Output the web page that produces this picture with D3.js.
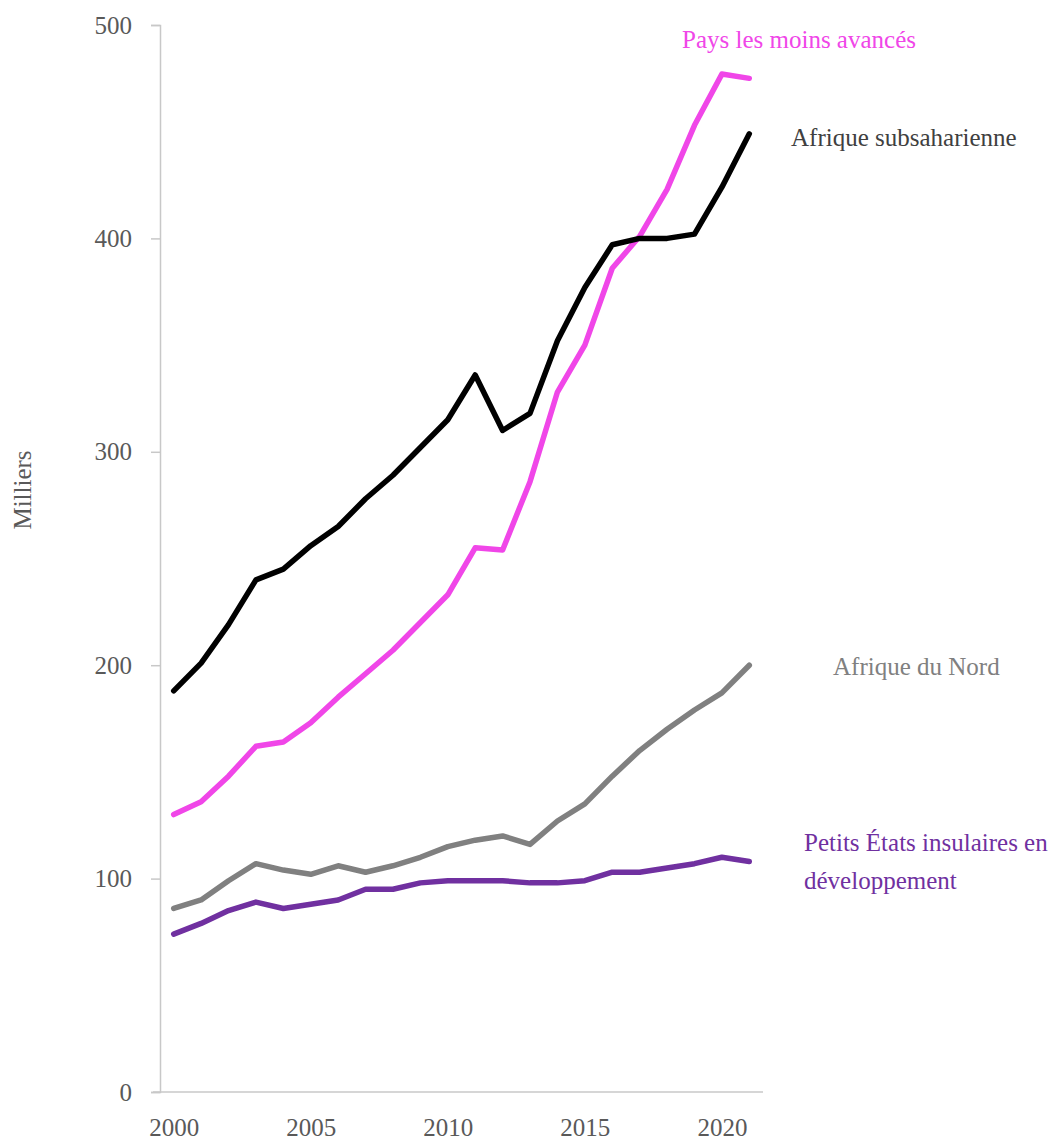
<!DOCTYPE html>
<html>
<head>
<meta charset="utf-8">
<script src="https://cdn.jsdelivr.net/npm/d3@7"></script>
<style>
  body { margin: 0; background: #fff; }
  text { font-family: "Liberation Serif", "Times New Roman", serif; }
</style>
</head>
<body>
<div class="canvas"></div>
<script>
// data
const years = d3.range(2000, 2022);
const yTicks = [0, 100, 200, 300, 400, 500];
const xTicks = [2000, 2005, 2010, 2015, 2020];

const subsaharan = [188, 201, 219, 240, 245, 256, 265, 278, 289, 302, 315, 336, 310, 318, 352, 377, 397, 400, 400, 402, 424, 449];
const leastDev = [130, 136, 148, 162, 164, 173, 185, 196, 207, 220, 233, 255, 254, 286, 328, 350, 386, 401, 423, 453, 477, 475];
const northAfrica = [86, 90, 99, 107, 104, 102, 106, 103, 106, 110, 115, 118, 120, 116, 127, 135, 148, 160, 170, 179, 187, 200];
const sids = [74, 79, 85, 89, 86, 88, 90, 95, 95, 98, 99, 99, 99, 98, 98, 99, 103, 103, 105, 107, 110, 108];

const series = [
  { name: ['Afrique du Nord'], values: northAfrica, color: '#808080', lx: 833, ly: 675 },
  { name: ['Petits États insulaires en', 'développement'], values: sids, color: '#7030a0', lx: 804, ly: 851 },
  { name: ['Pays les moins avancés'], values: leastDev, color: '#f046e8', lx: 682, ly: 48 },
  { name: ['Afrique subsaharienne'], values: subsaharan, color: '#000000', lx: 791, ly: 146, textColor: '#404040' }
];

const svg = d3.select('.canvas')
  .append('svg')
  .attr('width', 1056)
  .attr('height', 1140);

// plot area
const margin = { top: 25, left: 160, right: 293, bottom: 48 };
const graphWidth = 1056 - margin.left - margin.right;
const graphHeight = 1140 - margin.top - margin.bottom;

const graph = svg.append('g')
  .attr('transform', `translate(${margin.left},${margin.top})`);

// scales
const x = d3.scalePoint()
  .domain(years)
  .range([0, graphWidth])
  .padding(0.5);

const y = d3.scaleLinear()
  .domain([0, 500])
  .range([graphHeight, 0]);

// axes
const yAxis = d3.axisLeft(y)
  .tickValues(yTicks)
  .tickSize(9)
  .tickPadding(19);

const xAxis = d3.axisBottom(x)
  .tickValues(xTicks)
  .tickSize(0)
  .tickPadding(26);

const yAxisGroup = graph.append('g').call(yAxis);
const xAxisGroup = graph.append('g')
  .attr('transform', `translate(0,${graphHeight})`)
  .call(xAxis);

[xAxisGroup, yAxisGroup].forEach(g => {
  g.select('.domain').attr('stroke', '#c8c8c8').attr('stroke-width', 1.5);
  g.selectAll('.tick line').attr('stroke', '#c8c8c8').attr('stroke-width', 1.5);
  g.selectAll('text')
    .attr('fill', '#595959')
    .style('font-size', '25px')
    .style('font-family', '"Liberation Serif", serif');
});
xAxisGroup.select('.domain').attr('d', `M-7,0H${graphWidth}`);

// y title
svg.append('text')
  .attr('transform', 'translate(31,490) rotate(-90)')
  .attr('text-anchor', 'middle')
  .attr('fill', '#595959')
  .style('font-size', '25px')
  .text('Milliers');

// lines
const line = d3.line()
  .x((d, i) => x(years[i]))
  .y(d => y(d));

graph.selectAll('path.series')
  .data(series)
  .enter()
  .append('path')
  .attr('class', 'series')
  .attr('d', d => line(d.values))
  .attr('fill', 'none')
  .attr('stroke', d => d.color)
  .attr('stroke-width', 5.5)
  .attr('stroke-linejoin', 'round')
  .attr('stroke-linecap', 'round');

// labels
series.forEach(s => {
  const t = svg.append('text')
    .attr('x', s.lx)
    .attr('y', s.ly)
    .attr('fill', s.textColor || s.color)
    .style('font-size', '25px');
  s.name.forEach((n, i) => {
    t.append('tspan')
      .attr('x', s.lx)
      .attr('dy', i === 0 ? 0 : 38)
      .text(n);
  });
});
</script>
</body>
</html>
